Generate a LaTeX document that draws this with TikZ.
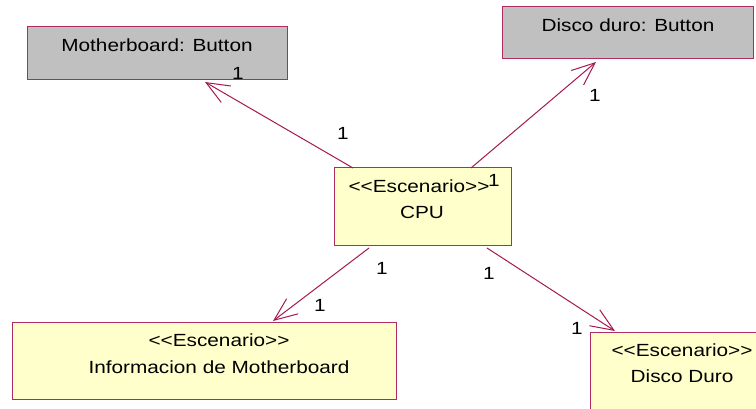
\documentclass[tikz,border=0pt]{standalone}
\usepackage{fontspec}
\setmainfont{Liberation Sans}[FakeStretch=1.18]
\usetikzlibrary{arrows.meta,calc}
\definecolor{edgeclr}{RGB}{176,44,96}
\definecolor{lineclr}{RGB}{165,25,80}
\definecolor{grayfill}{RGB}{192,192,192}
\definecolor{notefill}{RGB}{255,255,204}
\newcommand{\stereo}[1]{{<}{<}#1{>}{>}}
\tikzset{
  box/.style={draw=edgeclr, line width=1pt, inner sep=0pt, outer sep=0pt, anchor=north west},
  graybox/.style={box, fill=grayfill},
  scenbox/.style={box, fill=notefill},
  txt/.style={anchor=base, inner sep=0pt, font=\fontsize{17.6}{20}\selectfont, text=black},
  mult/.style={anchor=center, inner sep=0pt, font=\fontsize{17.6}{20}\selectfont, text=black},
  assoc/.style={draw=lineclr, line width=1pt, -{Straight Barb[length=23pt,width=19pt,line width=1pt]}}
}
\begin{document}
\begin{tikzpicture}[x=1pt,y=-1pt]
\useasboundingbox (0,0) rectangle (756,409);
\clip (0,0) rectangle (756,409);
\fill[white] (0,0) rectangle (756,409);

% boxes
\node[graybox, minimum width=260pt, minimum height=53pt] (mb) at (27,27) {};
\node[graybox, minimum width=251pt, minimum height=52pt] (dd) at (502,7) {};
\node[scenbox, minimum width=177pt, minimum height=78pt] (cpu) at (334,168) {};
\node[scenbox, minimum width=384pt, minimum height=77pt] (info) at (12,322) {};
\node[scenbox, minimum width=190pt, minimum height=90pt] (disco) at (590,332) {};

% box labels
\node[txt] (mbt) at (157,52) {Motherboard: Button};
\node[txt] (ddt) at (628,32) {Disco duro: Button};
\node[txt] (cput1) at (419,193) {\stereo{Escenario}};
\node[txt] (cput2) at (422,219) {CPU};
\node[txt] (infot1) at (219,346) {\stereo{Escenario}};
\node[txt] (infot2) at (219,373) {Informacion de Motherboard};
\node[txt] (discot1) at (682,356) {\stereo{Escenario}};
\node[txt] (discot2) at (682,382) {Disco Duro};

% associations
\draw[assoc] ($(cpu.north west)+(19,0)$) -- ($(mb.south west)+(178,2)$);
\draw[assoc] ($(cpu.north west)+(137,0)$) -- ($(dd.south west)+(94,3)$);
\draw[assoc] ($(cpu.south west)+(35,2)$) -- ($(info.north west)+(261,-1)$);
\draw[assoc] ($(cpu.south west)+(153,2)$) -- ($(disco.north west)+(25,-1)$);

% multiplicities
\node[mult] (m1) at (238,73) {1};
\node[mult] (m2) at (343,133) {1};
\node[mult] (m3) at (595,95) {1};
\node[mult] (m4) at (494,180) {1};
\node[mult] (m5) at (382,268) {1};
\node[mult] (m6) at (320,305) {1};
\node[mult] (m7) at (489,273) {1};
\node[mult] (m8) at (577,328) {1};
\end{tikzpicture}
\end{document}
